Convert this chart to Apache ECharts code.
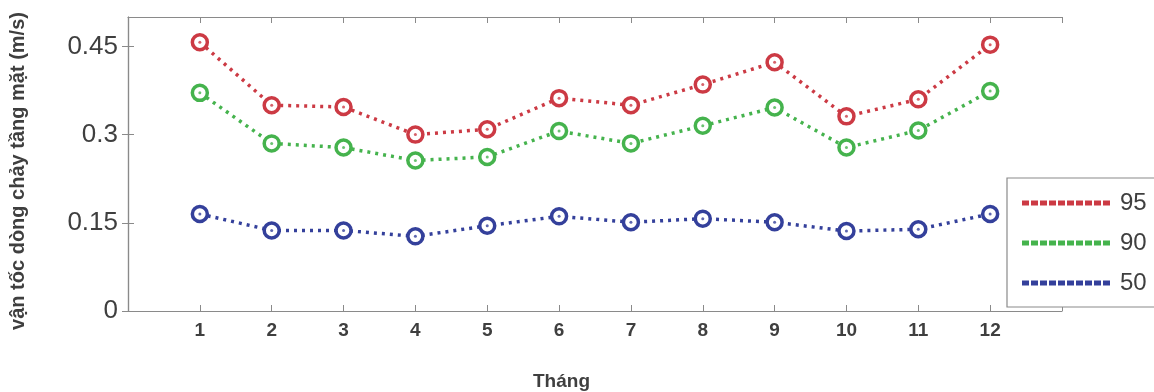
<!DOCTYPE html>
<html>
<head>
<meta charset="utf-8">
<script src="https://cdn.jsdelivr.net/npm/echarts@6/dist/echarts.min.js"></script>
<style>
  html, body { margin: 0; padding: 0; background: #ffffff; }
  #chart { width: 1154px; height: 392px; }
</style>
</head>
<body>
<div id="chart"></div>
<script>
// Surface current speed by month, for three percentile levels
const months = [1, 2, 3, 4, 5, 6, 7, 8, 9, 10, 11, 12];
const p95 = [0.457, 0.350, 0.347, 0.300, 0.309, 0.362, 0.350, 0.385, 0.423, 0.331, 0.360, 0.453];
const p90 = [0.371, 0.285, 0.278, 0.256, 0.262, 0.306, 0.285, 0.315, 0.346, 0.278, 0.307, 0.374];
const p50 = [0.165, 0.137, 0.137, 0.127, 0.145, 0.161, 0.151, 0.157, 0.151, 0.136, 0.139, 0.165];
const seriesNames = ['95', '90', '50'];
const yTicks = [0, 0.15, 0.3, 0.45];

const colors = ['#cc3a44', '#45b34d', '#34409b'];
const values = [p95, p90, p50];

const axisGray = '#8a8a8a';
const textGray = '#3f3f3f';

// dotted legend sample: ten small squares
const dotPath = (() => {
  let d = 'path://';
  for (let i = 0; i < 10; i++) d += 'M' + (i * 9) + ',0h5v3h-5z';
  return d;
})();

function pairs(arr) { return months.map((m, i) => [m, arr[i]]); }

const series = [];
values.forEach((arr, k) => {
  series.push({
    name: seriesNames[k],
    type: 'line',
    data: pairs(arr),
    symbol: 'circle',
    symbolSize: 15,
    itemStyle: { color: '#ffffff', borderColor: colors[k], borderWidth: 3.5 },
    lineStyle: { color: colors[k], width: 3.5, type: [3, 5], cap: 'butt' },
    z: 3,
    animation: false
  });
  // centre dot of each marker
  series.push({
    name: seriesNames[k] + '-dot',
    type: 'scatter',
    data: pairs(arr),
    symbol: 'circle',
    symbolSize: 3,
    itemStyle: { color: colors[k] },
    z: 4,
    silent: true,
    animation: false
  });
});

const xCommon = {
  type: 'value', min: 0, max: 13, interval: 1,
  axisLine: { show: true, onZero: false, lineStyle: { color: axisGray, width: 1.2 } },
  axisTick: { show: true, inside: true, length: 6, lineStyle: { color: axisGray } },
  splitLine: { show: false }
};
const yCommon = {
  type: 'value', min: 0, max: 0.5, interval: 0.15,
  axisLine: { show: true, lineStyle: { color: axisGray, width: 1.2 } },
  axisTick: { show: true, inside: true, length: 6, lineStyle: { color: axisGray },
              customValues: yTicks },
  splitLine: { show: false }
};

const option = {
  backgroundColor: '#ffffff',
  animation: false,
  grid: { left: 128, right: 92, top: 17, bottom: 81 },
  xAxis: [
    Object.assign({}, xCommon, {
      position: 'bottom',
      axisLabel: {
        show: true, margin: 10,
        color: textGray, fontFamily: 'Liberation Sans', fontWeight: 'bold', fontSize: 19,
        formatter: v => (months.indexOf(v) >= 0 ? String(v) : '')
      }
    }),
    Object.assign({}, xCommon, { position: 'top', axisLabel: { show: false } })
  ],
  yAxis: [
    Object.assign({}, yCommon, {
      position: 'left',
      axisLabel: {
        show: true, margin: 10,
        color: textGray, fontFamily: 'Liberation Sans', fontSize: 26,
        customValues: yTicks,
        formatter: v => String(parseFloat(v.toFixed(2)))
      }
    }),
    Object.assign({}, yCommon, { position: 'right', axisLabel: { show: false } })
  ],
  legend: {
    orient: 'vertical',
    left: 1007, top: 178,
    padding: [13, 60, 12, 15],
    itemGap: 16,
    itemWidth: 86, itemHeight: 3,
    backgroundColor: '#ffffff',
    borderColor: '#8a8a8a', borderWidth: 1.2,
    textStyle: { color: textGray, fontFamily: 'Liberation Sans', fontSize: 24, padding: [0, 0, 0, 6] },
    data: seriesNames.map((n, k) => ({ name: n, icon: dotPath, itemStyle: { color: colors[k] } })),
    z: 10
  },
  graphic: [
    {
      type: 'text', left: 533, top: 372,
      style: { text: 'Tháng', fill: textGray, font: 'bold 19px "Liberation Sans"' }
    },
    {
      type: 'text', x: 18, y: 171, rotation: Math.PI / 2,
      style: {
        text: 'vận tốc dòng chảy tầng mặt (m/s)', fill: textGray,
        font: 'bold 20px "Liberation Sans"', align: 'center', verticalAlign: 'middle'
      }
    }
  ],
  series: series
};

const chart = echarts.init(document.getElementById('chart'), null, { renderer: 'canvas' });
chart.setOption(option);
</script>
</body>
</html>
